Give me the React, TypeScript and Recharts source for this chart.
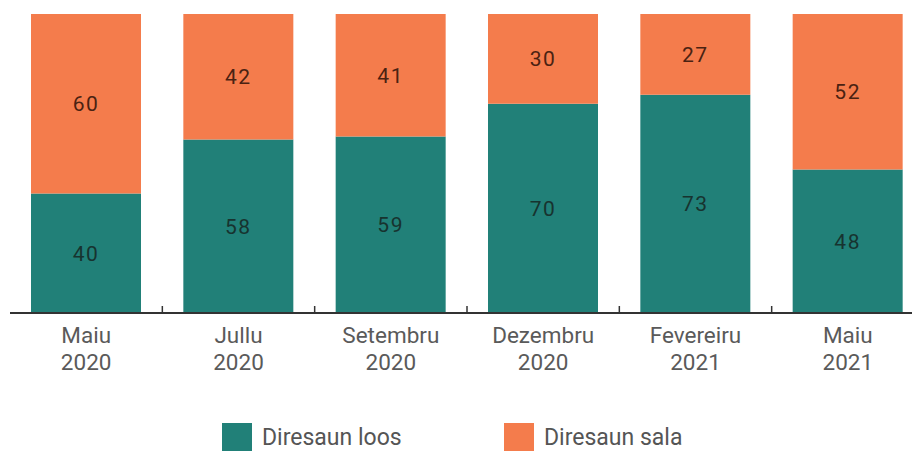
import { BarChart, Bar, XAxis, YAxis, Legend, LabelList } from 'recharts';

const months = ['Maiu', 'Jullu', 'Setembru', 'Dezembru', 'Fevereiru', 'Maiu'];
const years = ['2020', '2020', '2020', '2020', '2021', '2021'];
const loos = [40, 58, 59, 70, 73, 48];
const sala = [60, 42, 41, 30, 27, 52];

const data = months.map((m, i) => ({
  label: `${m}\n${years[i]}`,
  loos: loos[i],
  sala: sala[i],
}));

const TEAL = '#218078';
const ORANGE = '#f47c4c';
const FONT = 'Roboto, "Noto Sans", sans-serif';

const CHART_W = 930;
// bottom space = margin + x axis height (30) + legend (30)
const MARGIN = { top: 14, right: 6, left: 10, bottom: 80 };
const STEP = (CHART_W - MARGIN.left - MARGIN.right) / data.length;

function MonthTick(props: any) {
  const { x, y, payload, index } = props;
  const [m, yr] = String(payload.value).split('\n');
  return (
    <g>
      {index > 0 && (
        <line x1={x - STEP / 2} x2={x - STEP / 2} y1={y - 15} y2={y - 8} stroke="#333" strokeWidth={1.5} />
      )}
      <text x={x} y={y} textAnchor="middle" fill="#5a5a5a" fontSize={22.5} fontFamily={FONT}>
        <tspan x={x} dy={22}>{m}</tspan>
        <tspan x={x} dy={27}>{yr}</tspan>
      </text>
    </g>
  );
}

function LegendBox(props: any) {
  const items = props.payload || [];
  return (
    <div style={{ display: 'flex', marginLeft: 222, fontFamily: FONT }}>
      {items.map((it: any, i: number) => (
        <div key={it.value} style={{ display: 'flex', alignItems: 'center', width: i === 0 ? 282 : 'auto' }}>
          <span style={{ display: 'inline-block', width: 30, height: 28, background: it.color, marginRight: 10 }} />
          <span style={{ fontSize: 23, color: '#555' }}>{it.value}</span>
        </div>
      ))}
    </div>
  );
}

export default function App() {
  return (
    <div style={{ position: 'fixed', left: 0, top: 0, width: 912, height: 453, overflow: 'hidden', background: '#fff' }}>
      <BarChart width={CHART_W} height={453} data={data} margin={MARGIN} barSize={110}>
        <XAxis
          dataKey="label"
          tickLine={false}
          axisLine={{ stroke: '#333', strokeWidth: 2 }}
          tick={<MonthTick />}
          interval={0}
        />
        <YAxis hide domain={[0, 100]} />
        <Legend
          verticalAlign="bottom"
          content={<LegendBox />}
          wrapperStyle={{ bottom: 0, left: 0, height: 30 }}
        />
        <Bar dataKey="loos" name="Diresaun loos" stackId="a" fill={TEAL} isAnimationActive={false}>
          <LabelList dataKey="loos" position="center" fill="#17332f" fontSize={21} letterSpacing={1.5} fontFamily={FONT} />
        </Bar>
        <Bar dataKey="sala" name="Diresaun sala" stackId="a" fill={ORANGE} isAnimationActive={false}>
          <LabelList dataKey="sala" position="center" fill="#4a2212" fontSize={21} letterSpacing={1.5} fontFamily={FONT} />
        </Bar>
      </BarChart>
    </div>
  );
}
